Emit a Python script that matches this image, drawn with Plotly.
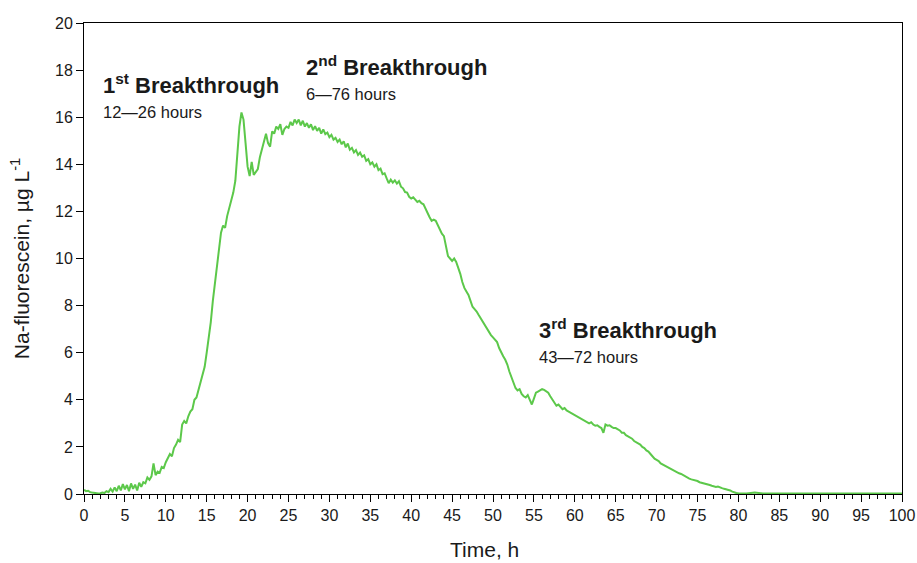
import plotly.graph_objects as go

# Time grid (hours): every 0.25 h up to 80 h, then hourly to 100 h
time_fine = [i * 0.25 for i in range(321)]
time_tail = list(range(81, 101))
time_h = time_fine + time_tail

# Na-fluorescein concentration (µg/L)
conc_0_20 = [
    0.18, 0.12, 0.14, 0.08, 0.06, 0.04, 0.03, 0.02, 0.03, 0.06, 0.04, 0.12, 0.08, 0.22, 0.10, 0.28, 0.12, 0.35, 0.15, 0.42,
    0.20, 0.38, 0.12, 0.45, 0.22, 0.40, 0.15, 0.48, 0.30, 0.50, 0.45, 0.70, 0.60, 0.75, 1.30, 0.80, 0.95, 0.90, 1.15, 1.10,
    1.35, 1.50, 1.70, 1.60, 1.95, 2.10, 2.30, 2.20, 2.95, 3.10, 3.00, 3.30, 3.50, 3.60, 4.00, 4.10, 4.40, 4.70, 5.00, 5.40,
    6.00, 6.60, 7.30, 8.20, 8.90, 9.60, 10.20, 11.10, 11.40, 11.30, 11.80, 12.10, 12.40, 12.80, 13.30, 14.60, 15.60, 16.20, 15.90, 14.90,
]
conc_20_40 = [
    13.90, 13.50, 14.10, 13.55, 13.70, 13.80, 14.30, 14.60, 14.90, 15.30, 14.90, 14.75, 15.40, 15.30, 15.60, 15.50, 15.70, 15.25, 15.50, 15.60,
    15.55, 15.80, 15.65, 15.90, 15.75, 15.90, 15.65, 15.85, 15.60, 15.75, 15.55, 15.70, 15.45, 15.62, 15.42, 15.55, 15.30, 15.48, 15.28, 15.35,
    15.15, 15.25, 15.05, 15.12, 14.95, 15.05, 14.85, 14.98, 14.72, 14.88, 14.62, 14.70, 14.50, 14.60, 14.40, 14.50, 14.32, 14.38, 14.15, 14.22,
    14.00, 14.08, 13.90, 14.00, 13.75, 13.82, 13.58, 13.62, 13.40, 13.20, 13.35, 13.22, 13.32, 13.18, 13.28, 13.05, 12.98, 12.82, 12.80, 12.62,
]
conc_40_60 = [
    12.55, 12.60, 12.50, 12.40, 12.45, 12.35, 12.30, 12.10, 11.90, 11.75, 11.60, 11.65, 11.60, 11.40, 11.20, 11.05, 10.95, 10.50, 10.10, 10.00,
    9.90, 10.00, 9.85, 9.60, 9.35, 9.00, 8.75, 8.60, 8.45, 8.20, 7.95, 7.85, 7.75, 7.60, 7.45, 7.30, 7.20, 7.05, 6.90, 6.75,
    6.65, 6.55, 6.45, 6.20, 6.00, 5.85, 5.70, 5.50, 5.20, 4.95, 4.70, 4.50, 4.40, 4.45, 4.25, 4.15, 4.10, 4.20, 4.00, 3.80,
    4.05, 4.30, 4.35, 4.40, 4.45, 4.42, 4.35, 4.30, 4.15, 4.00, 3.90, 3.75, 3.80, 3.70, 3.60, 3.65, 3.55, 3.50, 3.45, 3.40,
]
conc_60_80 = [
    3.35, 3.30, 3.25, 3.20, 3.15, 3.10, 3.05, 3.00, 3.05, 2.95, 2.90, 2.92, 2.85, 2.80, 2.60, 2.95, 2.90, 2.92, 2.85, 2.80,
    2.80, 2.75, 2.70, 2.60, 2.60, 2.50, 2.45, 2.40, 2.35, 2.25, 2.20, 2.15, 2.10, 2.00, 1.95, 1.85, 1.80, 1.70, 1.60, 1.50,
    1.45, 1.40, 1.30, 1.25, 1.20, 1.15, 1.10, 1.05, 1.00, 0.95, 0.92, 0.88, 0.85, 0.80, 0.72, 0.70, 0.65, 0.62, 0.60, 0.57,
    0.55, 0.50, 0.48, 0.45, 0.45, 0.42, 0.38, 0.35, 0.33, 0.30, 0.32, 0.27, 0.25, 0.22, 0.20, 0.18, 0.15, 0.10, 0.06, 0.04,
    0.03,
]
conc_80_100 = [0.02, 0.06, 0.02, 0.02, 0.02, 0.02, 0.02, 0.02, 0.02, 0.02,
               0.02, 0.02, 0.02, 0.02, 0.02, 0.02, 0.02, 0.02, 0.02, 0.02]
conc = conc_0_20 + conc_20_40 + conc_40_60 + conc_60_80 + conc_80_100

x_ticks = list(range(0, 101, 5))
y_ticks = list(range(0, 21, 2))

labels = [
    # (x, y, text, bold)
    (2.1, 17.42, "1<sup>st</sup> Breakthrough", True),
    (2.1, 16.2, "12\u201426 hours", False),
    (26.9, 18.17, "2<sup>nd</sup> Breakthrough", True),
    (26.9, 16.98, "6\u201476 hours", False),
    (55.4, 7.02, "3<sup>rd</sup> Breakthrough", True),
    (55.4, 5.82, "43\u201472 hours", False),
]

FONT = "Liberation Sans, Arial, sans-serif"

fig = go.Figure()
fig.add_trace(go.Scatter(
    x=time_h, y=conc, mode="lines",
    line=dict(color="#5cc84a", width=2),
    showlegend=False, hoverinfo="skip",
))

for x, y, t, bold in labels:
    fig.add_annotation(
        x=x, y=y, xref="x", yref="y", text=(f"<b>{t}</b>" if bold else t),
        showarrow=False, xanchor="left", yanchor="middle",
        font=dict(family=FONT, size=22 if bold else 16.5, color="#1a1a1a"),
    )

# x-axis title (placed slightly left of centre, as in the reference)
fig.add_annotation(
    x=0.489, y=-0.117, xref="paper", yref="paper", text="Time, h",
    showarrow=False, xanchor="center", yanchor="middle",
    font=dict(family=FONT, size=21, color="#1a1a1a"),
)

fig.update_layout(
    width=917, height=563,
    margin=dict(l=84, r=15, t=23, b=69),
    paper_bgcolor="white", plot_bgcolor="white",
    font=dict(family=FONT, size=16, color="#1a1a1a"),
)
fig.update_xaxes(
    range=[0, 100], tickvals=x_ticks, ticks="outside", ticklen=7, tickwidth=1, tickcolor="black",
    showline=True, linecolor="black", linewidth=1, mirror=True, showgrid=False, zeroline=False,
    minor=dict(dtick=1, ticks="outside", ticklen=4, tickwidth=1, tickcolor="black", showgrid=False),
    tickfont=dict(size=16), automargin=False,
)
fig.update_yaxes(
    range=[0, 20], tickvals=y_ticks, ticks="outside", ticklen=7, tickwidth=1, tickcolor="black",
    showline=True, linecolor="black", linewidth=1, mirror=True, showgrid=False, zeroline=False,
    title=dict(text="Na-fluorescein, \u00b5g L<sup>-1</sup>", font=dict(size=21), standoff=19),
    tickfont=dict(size=16), automargin=False,
)

fig.write_html("out.html", config={"displayModeBar": False},
               post_script="document.body.style.margin='0';")
